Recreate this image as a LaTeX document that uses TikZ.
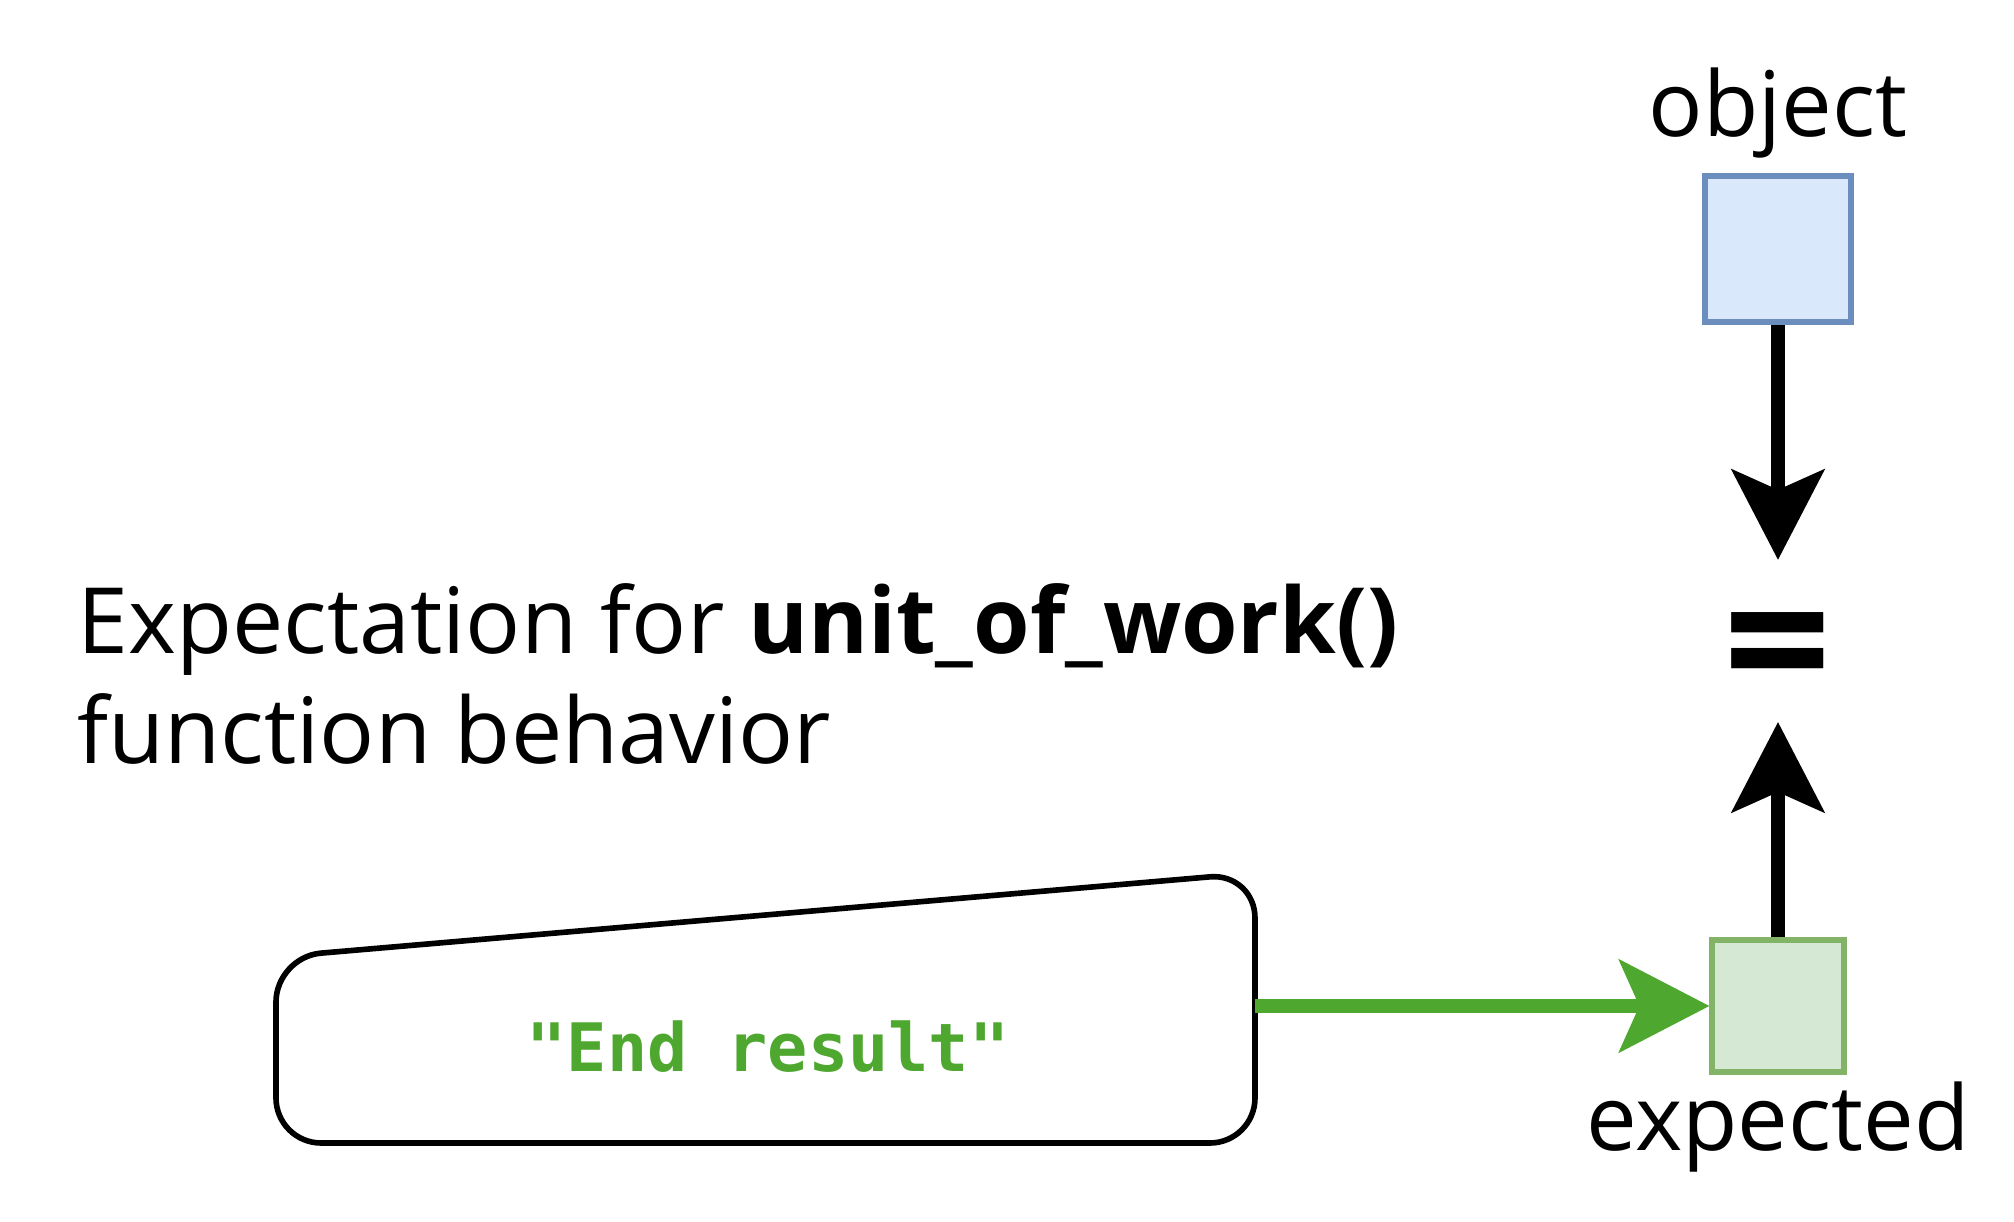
\documentclass[tikz,border=0pt]{standalone}
\usepackage{fontspec}
\setmainfont{Open Sans}
\setmonofont{DejaVu Sans Mono}
\usetikzlibrary{arrows.meta,positioning}

\definecolor{objfill}{HTML}{DAE8FC}
\definecolor{objline}{HTML}{6C8EBF}
\definecolor{expfill}{HTML}{D5E8D4}
\definecolor{expline}{HTML}{82B366}
\definecolor{resgreen}{HTML}{4EA72E}

\tikzstyle{box} = [rectangle, line width=1.7pt, inner sep=0pt]
\tikzstyle{tag} = [inner sep=0pt, font=\fontsize{25.7}{30}\selectfont]
\tikzstyle{flow} = [line width=4pt, -{Stealth[length=0.9cm, width=0.92cm, inset=0.2cm]}]

\begin{document}
\begin{tikzpicture}[x=0.01cm, y=-0.01cm]
	\useasboundingbox (0,0) rectangle (2014,1222);

	\node (object)   [box, fill=objfill, draw=objline, minimum width=1.45cm, minimum height=1.46cm] at (1778,249) {};
	\node (objtag)   [tag, above=0.14cm of object] {object};
	\node (expected) [box, fill=expfill, draw=expline, minimum width=1.31cm, minimum height=1.31cm] at (1778,1006) {};
	\node (exptag)   [tag, below=0.07cm of expected] {expected};
	\node (eq)       [inner sep=0pt, anchor=base, font=\fontsize{54}{54}\selectfont\bfseries] at (1778,708) {=};

	\node (caption)  [anchor=base west, align=left, inner sep=0pt, font=\fontsize{26}{31.3}\selectfont] at (77,764)
		{Expectation for \textbf{unit\_of\_work()}\\function behavior};

	% manual input shape
	\draw[line width=1.6pt, rounded corners=0.45cm] (700,1143) -- (276,1143) -- (276,957) -- (1255,873) -- (1255,1143) -- cycle;
	\node (result)   [text=resgreen, font=\fontsize{19}{22}\selectfont\ttfamily\bfseries] at (768,1047) {"End result"};
	\coordinate (inputR) at (1255,1006);

	\draw[flow] (object.south) -- ([yshift=1.48cm]eq.base);
	\draw[flow] (expected.north) -- ([yshift=-0.14cm]eq.base);
	\draw[flow, draw=resgreen, fill=resgreen] (inputR) -- (expected.west);
\end{tikzpicture}
\end{document}
